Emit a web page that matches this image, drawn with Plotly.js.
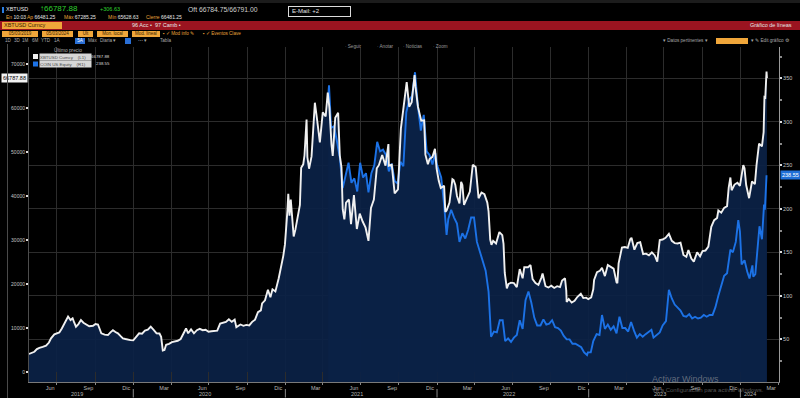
<!DOCTYPE html>
<html><head><meta charset="utf-8">
<script src="https://cdn.plot.ly/plotly-3.0.1.min.js"></script>
<style>
html,body{margin:0;padding:0;background:#000;width:800px;height:398px;overflow:hidden;}
#wrap{position:relative;width:800px;height:398px;}
#chart{position:absolute;left:0;top:0;width:800px;height:398px;}
.h{position:absolute;white-space:nowrap;font-family:"Liberation Sans",Arial,sans-serif;line-height:1;z-index:5;}
.o{color:#e8a33a;}
.w{color:#e6e6e6;}
.ob{position:absolute;background:#f0a63a;color:#3a2400;font-size:4.5px;line-height:6px;height:6px;text-align:center;overflow:hidden;z-index:5;font-family:"Liberation Sans",Arial,sans-serif;white-space:nowrap;}
.sb{color:#a8a8a8;font-size:4.6px;}
</style></head>
<body>
<div id="wrap">
<div id="chart"></div>

<!-- terminal header -->
<div class="h" style="left:0;top:0;width:800px;height:3px;background:#1c1c1c;"></div>
<div class="h" style="left:2px;top:7px;width:2px;height:6px;background:#2a7de1;"></div>
<div class="h w" style="left:6px;top:7px;font-size:5.5px;">XBTUSD</div>
<div class="h" style="left:40px;top:5px;font-size:8px;color:#2fd02f;">↑66787.88</div>
<div class="h" style="left:100px;top:7px;font-size:5.5px;color:#2fd02f;">+306.63</div>
<div class="h" style="left:188px;top:7px;font-size:6.8px;color:#cfcfcf;">Oft 66784.75/66791.00</div>
<div class="h w" style="left:288px;top:6px;width:58px;height:8px;border:1px solid #dcdcdc;font-size:6px;padding:1px 0 0 3px;">E-Mail: +2</div>

<div class="h" style="left:6px;top:14.5px;font-size:5px;"><span class="o">En</span> <span class="w">10:03</span></div>
<div class="h" style="left:27px;top:14.5px;font-size:5px;"><span class="o">Ap</span> <span class="w">66481.25</span></div>
<div class="h" style="left:64px;top:14.5px;font-size:5px;"><span class="o">Máx</span> <span class="w">67285.25</span></div>
<div class="h" style="left:108px;top:14.5px;font-size:5px;"><span class="o">Mín</span> <span class="w">65628.63</span></div>
<div class="h" style="left:146px;top:14.5px;font-size:5px;"><span class="o">Cierre</span> <span class="w">66481.25</span></div>

<div class="h" style="left:0;top:21px;width:800px;height:9px;background:#9b1420;"></div>
<div class="ob" style="left:2px;top:22px;width:60px;height:7px;line-height:7px;font-size:5.5px;text-align:left;padding-left:2px;box-sizing:border-box;">XBTUSD Curncy</div>
<div class="h w" style="left:132px;top:23px;font-size:5.5px;">96 Acc •&nbsp;&nbsp;97 Camb •</div>
<div class="h w" style="left:750px;top:23px;font-size:5.5px;">Gráfico de líneas</div>

<div class="ob" style="left:2px;top:31px;width:36px;">05/03/2019</div>
<div class="ob" style="left:42px;top:31px;width:31px;">05/03/2024</div>
<div class="ob" style="left:78px;top:31px;width:15px;">Últ</div>
<div class="ob" style="left:97px;top:31px;width:31px;">Mon. local</div>
<div class="ob" style="left:132px;top:31px;width:28px;">Mod. lineal</div>
<div class="h o" style="left:163px;top:31.5px;font-size:4.6px;">▪ ✓ Mod info ✎</div>
<div class="h o" style="left:203px;top:31.5px;font-size:4.6px;">▪ ✓ Eventos Clave</div>

<div class="h sb" style="left:5px;top:38.5px;">1D</div>
<div class="h sb" style="left:14px;top:38.5px;">3D</div>
<div class="h sb" style="left:22px;top:38.5px;">1M</div>
<div class="h sb" style="left:32px;top:38.5px;">6M</div>
<div class="h sb" style="left:41px;top:38.5px;">YTD</div>
<div class="h sb" style="left:54px;top:38.5px;">1A</div>
<div class="h" style="left:75px;top:37.5px;width:10px;height:6px;background:#2a6fd6;color:#fff;font-size:4.6px;text-align:center;line-height:6px;">5A</div>
<div class="h sb" style="left:88px;top:38.5px;">Máx</div>
<div class="h sb" style="left:100px;top:38.5px;">Diaria ▾</div>
<div class="h" style="left:125px;top:37.5px;width:6px;height:6px;background:#2a6fd6;"></div>
<div class="h sb" style="left:138px;top:38.5px;">⋯ ▾</div>
<div class="h sb" style="left:160px;top:38.5px;">Tabla</div>

<div class="h sb" style="left:663px;top:38.5px;">▾ Datos pertinentes ▾</div>
<div class="ob" style="left:716px;top:37.5px;width:32px;"></div>
<div class="h sb" style="left:751px;top:38.5px;">▾ ✎ Edit gráfico ⚙</div>

<div class="h" style="left:345px;top:45px;font-size:4.6px;color:#9a9a9a;">· Seguir</div>
<div class="h" style="left:377px;top:45px;font-size:4.6px;color:#9a9a9a;">· Anotar</div>
<div class="h" style="left:403px;top:45px;font-size:4.6px;color:#9a9a9a;">· Noticias</div>
<div class="h" style="left:433px;top:45px;font-size:4.6px;color:#9a9a9a;">· Zoom</div>

<div class="h" style="left:7px;top:44px;width:1px;height:354px;background:#4a4a4a;"></div>

<div class="h" style="left:652px;top:375px;font-size:9px;color:rgba(170,170,170,0.55);">Activar Windows</div>
<div class="h" style="left:652px;top:387px;font-size:6px;color:rgba(170,170,170,0.5);">Ve a Configuración para activar Windows.</div>
</div>

<script>
// ---------------- DATA ----------------
const btcName = 'XBTUSD Curncy';
const coinName = 'COIN US Equity';
const btcLast = 66787.88;
const coinLast = 238.55;

const btcDates = [
 '2019-04-25','2019-05-02','2019-05-08','2019-05-14','2019-05-20','2019-05-28','2019-06-05','2019-06-12','2019-06-17','2019-06-25',
 '2019-07-01','2019-07-07','2019-07-13','2019-07-18','2019-07-23','2019-07-28','2019-08-03','2019-08-08','2019-08-12','2019-08-16',
 '2019-08-22','2019-08-28','2019-09-03','2019-09-09','2019-09-17','2019-09-26','2019-10-02','2019-10-08','2019-10-16','2019-10-24',
 '2019-11-01','2019-11-07','2019-11-13','2019-11-19','2019-11-25','2019-12-01','2019-12-07','2019-12-13','2019-12-19','2019-12-25',
 '2020-01-01','2020-01-08','2020-01-15','2020-01-22','2020-01-29','2020-02-05','2020-02-12','2020-02-19','2020-02-26','2020-03-04',
 '2020-03-08','2020-03-12','2020-03-16','2020-03-20','2020-03-27','2020-04-03','2020-04-10','2020-04-17','2020-04-24','2020-04-30',
 '2020-05-07','2020-05-12','2020-05-19','2020-05-26','2020-06-02','2020-06-09','2020-06-16','2020-06-23','2020-06-30','2020-07-07',
 '2020-07-14','2020-07-21','2020-07-28','2020-08-04','2020-08-11','2020-08-18','2020-08-25','2020-09-01','2020-09-05','2020-09-15',
 '2020-09-22','2020-09-29','2020-10-06','2020-10-13','2020-10-20','2020-10-27','2020-11-03','2020-11-06','2020-11-13','2020-11-20',
 '2020-11-26','2020-12-01','2020-12-08','2020-12-16','2020-12-22','2020-12-27','2020-12-31',
 '2021-01-03','2021-01-06','2021-01-08','2021-01-11','2021-01-14','2021-01-21','2021-01-25','2021-01-29','2021-02-05','2021-02-08',
 '2021-02-13','2021-02-16','2021-02-21','2021-02-23','2021-02-27','2021-03-05','2021-03-10','2021-03-13','2021-03-18','2021-03-25',
 '2021-04-01','2021-04-08','2021-04-13','2021-04-17','2021-04-22','2021-04-25','2021-05-01','2021-05-08','2021-05-12','2021-05-16',
 '2021-05-19','2021-05-23','2021-05-27','2021-06-03','2021-06-08','2021-06-15','2021-06-22','2021-06-29','2021-07-06','2021-07-13',
 '2021-07-20','2021-07-26','2021-08-02','2021-08-09','2021-08-14','2021-08-22','2021-08-30','2021-09-06','2021-09-07','2021-09-14',
 '2021-09-21','2021-09-29','2021-10-06','2021-10-15','2021-10-20','2021-10-26','2021-11-01','2021-11-08','2021-11-10','2021-11-16',
 '2021-11-24','2021-12-01','2021-12-04','2021-12-10','2021-12-14','2021-12-21','2021-12-27','2021-12-31',
 '2022-01-05','2022-01-10','2022-01-18','2022-01-21','2022-01-24','2022-01-31','2022-02-07','2022-02-10','2022-02-14','2022-02-18',
 '2022-02-24','2022-02-28','2022-03-03','2022-03-07','2022-03-14','2022-03-21','2022-03-28','2022-04-04','2022-04-11','2022-04-18',
 '2022-04-25','2022-05-02','2022-05-05','2022-05-09','2022-05-12','2022-05-16','2022-05-23','2022-05-31','2022-06-07','2022-06-10',
 '2022-06-13','2022-06-18','2022-06-22','2022-06-28','2022-07-05','2022-07-12','2022-07-19','2022-07-26','2022-07-30','2022-08-08',
 '2022-08-14','2022-08-19','2022-08-26','2022-09-02','2022-09-09','2022-09-12','2022-09-19','2022-09-26','2022-10-03','2022-10-10',
 '2022-10-17','2022-10-24','2022-10-29','2022-11-05','2022-11-08','2022-11-09','2022-11-14','2022-11-21','2022-11-28','2022-12-05',
 '2022-12-13','2022-12-19','2022-12-26','2022-12-31',
 '2023-01-07','2023-01-12','2023-01-14','2023-01-21','2023-01-28','2023-02-02','2023-02-09','2023-02-16','2023-02-23','2023-03-02',
 '2023-03-09','2023-03-11','2023-03-14','2023-03-18','2023-03-22','2023-03-29','2023-04-05','2023-04-11','2023-04-14','2023-04-21',
 '2023-04-28','2023-05-05','2023-05-12','2023-05-19','2023-05-26','2023-06-02','2023-06-09','2023-06-15','2023-06-21','2023-06-28',
 '2023-07-05','2023-07-13','2023-07-20','2023-07-27','2023-08-03','2023-08-10','2023-08-17','2023-08-24','2023-08-29','2023-09-05',
 '2023-09-11','2023-09-19','2023-09-26','2023-10-02','2023-10-09','2023-10-16','2023-10-23','2023-10-30','2023-11-06','2023-11-09',
 '2023-11-16','2023-11-23','2023-11-30','2023-12-04','2023-12-08','2023-12-11','2023-12-18','2023-12-25','2023-12-31',
 '2024-01-08','2024-01-11','2024-01-15','2024-01-22','2024-01-29','2024-02-05','2024-02-09','2024-02-12','2024-02-15','2024-02-22',
 '2024-02-26','2024-02-28','2024-03-01','2024-03-04','2024-03-05'
];
const btcValues = [
 4100,4300,4600,5200,5500,5700,6000,6700,7650,8550,
 8700,9000,9900,10800,11600,12600,11800,12200,11200,10300,
 10900,11800,11200,10800,10400,10500,10900,10800,8800,8500,
 8400,9000,9500,9100,8800,8200,7650,7500,7300,7250,
 7200,8100,8800,8700,9400,9600,10300,9600,8800,8750,
 8000,4900,5000,6200,6400,6800,6900,7100,7500,8600,
 9900,8800,9700,8800,9500,9800,9500,9600,9150,9250,
 9250,9400,11000,11200,11400,12000,11400,11900,10200,10800,
 10500,10700,10600,11400,11900,13600,14000,15600,16300,18700,
 17000,18800,18300,21300,23800,26400,29000,
 32000,36800,40500,35500,39200,30800,32300,34300,38000,46400,
 47200,49200,57400,48800,46200,49000,56000,61200,57600,52200,
 59000,58100,63500,60000,51700,49100,57800,58900,49200,46500,
 37000,34700,38500,39200,33600,40200,32500,36000,34200,32800,
 29800,37300,39200,46300,47000,49300,46900,51800,46900,47100,
 40600,41500,55300,61600,65900,60300,61300,67500,64900,60300,
 57100,57200,49400,47200,48400,48900,50700,46200,
 43500,41800,42300,36400,36700,38500,43800,43600,42500,40000,
 38300,43200,42500,38000,39600,41000,47100,46600,39500,40800,
 40400,38500,36500,30100,28900,29800,29200,31800,31100,29100,
 22500,19000,20000,20300,20200,19300,23400,21300,23800,23800,
 24300,21100,20200,19800,21400,22400,19500,19200,19600,19100,
 19500,19300,20800,21300,18500,15900,16600,15800,16200,17100,
 17800,16800,16900,16550,
 16950,18800,20900,22700,23000,23700,21800,24300,23900,23500,
 20400,20200,24700,26900,28300,28400,28200,30200,30500,27800,
 29300,29500,26800,26900,26500,27200,26500,25100,30000,30100,
 30500,31400,29800,29300,29200,29400,26600,26200,27700,25800,
 25100,27200,26300,27500,27600,28500,33000,34500,35000,36700,
 36200,37300,37700,41900,44200,41300,42600,43000,42300,
 47000,46300,42500,39500,43300,42700,47100,50000,51900,51300,
 54500,62500,62400,68300,66787.88
];

const coinDates = [
 '2021-04-14','2021-04-16','2021-04-21','2021-04-28','2021-05-05','2021-05-12','2021-05-19','2021-05-26','2021-06-02','2021-06-09',
 '2021-06-16','2021-06-23','2021-06-30','2021-07-07','2021-07-14','2021-07-20','2021-07-27','2021-08-03','2021-08-10','2021-08-17',
 '2021-08-24','2021-08-31','2021-09-07','2021-09-14','2021-09-21','2021-09-28','2021-10-05','2021-10-12','2021-10-19','2021-10-26',
 '2021-11-02','2021-11-09','2021-11-16','2021-11-23','2021-11-30','2021-12-07','2021-12-14','2021-12-21','2021-12-28','2021-12-31',
 '2022-01-04','2022-01-11','2022-01-18','2022-01-24','2022-01-28','2022-02-04','2022-02-11','2022-02-18','2022-02-24','2022-03-03',
 '2022-03-10','2022-03-17','2022-03-24','2022-03-31','2022-04-07','2022-04-14','2022-04-21','2022-04-28','2022-05-05','2022-05-09',
 '2022-05-11','2022-05-18','2022-05-25','2022-06-01','2022-06-08','2022-06-14','2022-06-21','2022-06-28','2022-07-05','2022-07-12',
 '2022-07-19','2022-07-26','2022-08-02','2022-08-09','2022-08-16','2022-08-23','2022-08-30','2022-09-07','2022-09-14','2022-09-21',
 '2022-09-28','2022-10-05','2022-10-12','2022-10-19','2022-10-26','2022-11-02','2022-11-09','2022-11-16','2022-11-23','2022-11-30',
 '2022-12-07','2022-12-14','2022-12-21','2022-12-28','2022-12-30',
 '2023-01-06','2023-01-12','2023-01-20','2023-01-27','2023-02-02','2023-02-09','2023-02-16','2023-02-23','2023-03-02','2023-03-09',
 '2023-03-16','2023-03-23','2023-03-30','2023-04-06','2023-04-13','2023-04-20','2023-04-27','2023-05-04','2023-05-11','2023-05-18',
 '2023-05-25','2023-06-01','2023-06-06','2023-06-13','2023-06-21','2023-06-28','2023-07-06','2023-07-13','2023-07-20','2023-07-27',
 '2023-08-03','2023-08-10','2023-08-17','2023-08-24','2023-08-31','2023-09-07','2023-09-14','2023-09-21','2023-09-28','2023-10-05',
 '2023-10-12','2023-10-19','2023-10-26','2023-11-02','2023-11-09','2023-11-16','2023-11-23','2023-11-30','2023-12-05','2023-12-08',
 '2023-12-14','2023-12-21','2023-12-27','2023-12-31',
 '2024-01-04','2024-01-11','2024-01-18','2024-01-23','2024-01-30','2024-02-01','2024-02-06','2024-02-13','2024-02-16','2024-02-22',
 '2024-02-27','2024-02-29','2024-03-01','2024-03-04'
];
const coinValues = [
 328,342,293,295,278,259,224,240,253,230,
 235,220,253,236,241,219,241,250,277,266,
 268,262,243,252,232,229,254,249,311,325,
 330,357,318,290,308,266,262,251,264,252,
 246,236,205,170,188,199,190,183,162,172,
 166,176,190,190,162,150,139,129,105,73,
 53,59,58,72,72,48,51,47,52,55,
 72,62,95,105,92,75,66,66,73,67,
 68,72,64,63,60,54,50,50,45,45,
 43,41,35,32,35,
 35,48,56,55,78,62,67,61,65,57,
 76,63,63,59,70,60,52,56,53,56,
 59,61,52,55,58,66,71,107,97,90,
 87,83,77,76,79,74,76,74,75,78,
 76,78,78,87,100,111,123,126,143,153,
 150,162,187,174,
 136,141,127,120,135,122,125,160,180,165,
 205,199,207,238.55
];

const btcTicks = [0,10000,20000,30000,40000,50000,60000,70000];
const coinTicks = [50,100,150,200,250,300,350];
const tickMonthNames = ['Mar','Jun','Sep','Dic'];
const tickMonthNums = [3,6,9,12];
const tickYears = [2019,2020,2021,2022,2023,2024];
const yearLabels = ['2019','2020','2021','2022','2023','2024'];

// ---------------- LAYOUT ----------------
const W = 800, H = 398;
const M = {l:29, r:21, t:47, b:16};
const PW = W - M.l - M.r, PH = H - M.t - M.b;
const px = v => (v - M.l) / PW;
const py = v => (H - M.b - v) / PH;

const xRange = ['2019-04-25','2024-04-03'];
const btcRange = [-2270, 73860];
const coinRange = [1, 386];
const FONT = '"Liberation Sans",Arial,sans-serif';
const NAVY = 'rgba(11,33,70,0.93)';
const NAVY_SOLID = 'rgb(10,31,65)';
const WHITE = '#f0f0f0';
const BLUE = '#1c72e6';
const GRID = '#2c2c2c';

// x tick labels at mid-month
const tickVals = [], tickText = [];
tickYears.forEach(y => tickMonthNums.forEach((m, i) => {
  const d = y + '-' + String(m).padStart(2,'0') + '-15';
  if (d > xRange[0] && d < xRange[1]) { tickVals.push(d); tickText.push(tickMonthNames[i]); }
}));

const lastDate = btcDates[btcDates.length - 1];
const annotations = [];
const shapes = [];

// year labels and separators
yearLabels.forEach((lab, i) => {
  const y = tickYears[i];
  const s = Math.max(Date.UTC(y,0,1), Date.parse(xRange[0]));
  const e = Math.min(Date.UTC(y,11,31), Date.parse(lastDate));
  const mid = new Date((s + e) / 2 - 10 * 86400000).toISOString().slice(0,10);
  annotations.push({xref:'x', yref:'paper', x: mid, y: py(393.5), text: lab, showarrow:false,
    font:{size:5.5, color:'#b4b4b4', family:FONT}, xanchor:'center', yanchor:'middle'});
  if (i > 0) {
    shapes.push({type:'line', xref:'x', yref:'paper', x0: y + '-01-01', x1: y + '-01-01',
      y0: py(389), y1: py(397.5), line:{color:'#8a8a8a', width:1}});
  }
});

// fill strip below the left axis zero down to the plot floor
shapes.push({type:'rect', xref:'x', yref:'y', x0: btcDates[0], x1: lastDate, y0: btcRange[0], y1: 0,
  fillcolor: NAVY_SOLID, line:{width:0}, layer:'below'});

// legend block
annotations.push({xref:'paper', yref:'paper', x: px(68), y: py(49.5), text:'Último precio', showarrow:false,
  font:{size:4.8, color:'#b0b0b0', family:FONT}, xanchor:'center', yanchor:'middle'});
const legendRows = [
  {name: btcName, tag:'(L1)', val: btcLast, color: WHITE, yc: 56.5},
  {name: coinName, tag:'(R1)', val: coinLast, color: BLUE, yc: 64}
];
legendRows.forEach(r => {
  shapes.push({type:'rect', xref:'paper', yref:'paper', x0: px(33), x1: px(38), y0: py(r.yc + 2.5), y1: py(r.yc - 2.5),
    fillcolor: r.color, line:{width:0}});
  annotations.push({xref:'paper', yref:'paper', x: px(39), y: py(r.yc), xanchor:'left', yanchor:'middle',
    text: r.name + '&nbsp;&nbsp;&nbsp;&nbsp;' + r.tag, showarrow:false, width:51, height:6, align:'left',
    bgcolor:'#d6d6d6', borderpad:0, font:{size:4.4, color:'#4a4a4a', family:FONT}});
  annotations.push({xref:'paper', yref:'paper', x: px(112), y: py(r.yc), xanchor:'right', yanchor:'middle',
    text: r.val.toFixed(2), showarrow:false, font:{size:4.4, color:'#dcdcdc', family:FONT}});
});

// last value tags on the axes
annotations.push({xref:'paper', yref:'y', x: 0, y: btcLast, xanchor:'right', yanchor:'middle', xshift:-1,
  text: btcLast.toFixed(2), showarrow:false, bgcolor:'#f2f2f2', borderpad:1,
  font:{size:5.5, color:'#000', family:FONT}});
annotations.push({xref:'paper', yref:'y2', x: 1, y: coinLast, xanchor:'left', yanchor:'middle', xshift:1,
  text: coinLast.toFixed(2), showarrow:false, bgcolor:'#1f6fd8', borderpad:1,
  font:{size:5.5, color:'#fff', family:FONT}});

const data = [
  {x: btcDates, y: btcValues, yaxis:'y', type:'scatter', mode:'lines', fill:'tozeroy',
   fillcolor: NAVY, line:{width:0, color:'rgba(0,0,0,0)'}, hoverinfo:'skip', showlegend:false},
  {x: coinDates, y: coinValues, yaxis:'y2', type:'scatter', mode:'lines', fill:'tozeroy',
   fillcolor: NAVY, line:{width:0, color:'rgba(0,0,0,0)'}, hoverinfo:'skip', showlegend:false},
  {x: coinDates, y: coinValues, yaxis:'y3', type:'scatter', mode:'lines', name: coinName,
   line:{width:1.9, color: BLUE}, showlegend:false},
  {x: btcDates, y: btcValues, yaxis:'y4', type:'scatter', mode:'lines', name: btcName,
   line:{width:1.9, color: WHITE}, showlegend:false}
];

const layout = {
  width: W, height: H,
  margin: M,
  paper_bgcolor:'#000', plot_bgcolor:'#000',
  font:{family: FONT, color:'#c8c8c8', size:5},
  showlegend:false,
  xaxis:{type:'date', range: xRange, tickmode:'array', tickvals: tickVals, ticktext: tickText,
    ticks:'', showgrid:false, zeroline:false, showline:true, linecolor:'#7a7a7a', linewidth:1,
    tickfont:{size:5.5, color:'#b8b8b8', family:FONT}, tickangle:0, fixedrange:true,
    minor:{dtick:'M3', tick0:'2019-07-01', showgrid:true, gridcolor: GRID, gridwidth:1,
      ticks:'outside', ticklen:2, tickcolor:'#888'}},
  yaxis:{range: btcRange, side:'left', tickmode:'array', tickvals: btcTicks, ticktext: btcTicks.map(String),
    showgrid:false, zeroline:false, showline:true, linecolor:'#4d4d4d',
    ticks:'outside', ticklen:2, tickwidth:2, tickcolor:'#e0e0e0',
    tickfont:{size:5, color:'#c4c4c4', family:FONT}, fixedrange:true},
  yaxis2:{range: coinRange, overlaying:'y', side:'right', tickmode:'array', tickvals: coinTicks,
    ticktext: coinTicks.map(String), showgrid:true, gridcolor: GRID, gridwidth:1, zeroline:false,
    showline:true, linecolor:'#9a9a9a', ticks:'outside', ticklen:2, tickwidth:2, tickcolor:'#e0e0e0',
    tickfont:{size:5.5, color:'#c4c4c4', family:FONT}, fixedrange:true,
    minor:{dtick:25, ticks:'outside', ticklen:1.5, tickcolor:'#8a8a8a', showgrid:false}},
  yaxis3:{range: coinRange, overlaying:'y', visible:false, fixedrange:true},
  yaxis4:{range: btcRange, overlaying:'y', visible:false, fixedrange:true},
  annotations: annotations,
  shapes: shapes
};

Plotly.newPlot('chart', data, layout, {staticPlot:true, displayModeBar:false});
</script>
</body></html>
